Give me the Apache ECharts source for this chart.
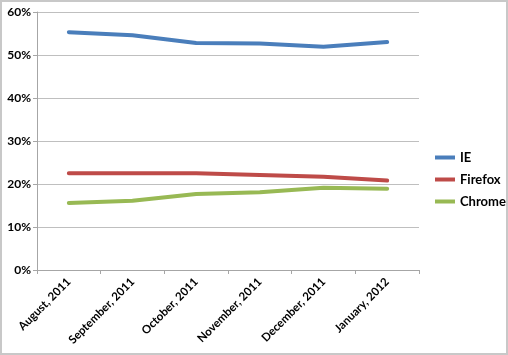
<!DOCTYPE html>
<html><head><meta charset="utf-8">
<script src="https://cdn.jsdelivr.net/npm/echarts@6/dist/echarts.min.js"></script>
<style>html,body{margin:0;padding:0;background:#fff}#c{width:508px;height:355px;box-sizing:border-box;border:2px solid #c8c8c8}</style>
</head><body><div id="c"></div>
<script>
const categories = ['August, 2011','September, 2011','October, 2011','November, 2011','December, 2011','January, 2012'];
const ie = [55.3, 54.6, 52.8, 52.7, 51.9, 53.0];
const firefox = [22.5, 22.5, 22.5, 22.1, 21.7, 20.8];
const chrome = [15.6, 16.1, 17.7, 18.1, 19.1, 18.9];
const yTicks = [0, 10, 20, 30, 40, 50, 60];

const chart = echarts.init(document.getElementById('c'));
const font = 'Lato, "Open Sans", sans-serif';
const mk = (name, data, color) => ({
  name, type: 'line', data, symbol: 'none', smooth: false,
  lineStyle: {width: 4, color, join: 'round', cap: 'round'}, itemStyle: {color}
});
chart.setOption({
  animation: false,
  grid: {left: 35, right: 87, top: 10, bottom: 83},
  legend: {
    orient: 'vertical', left: 428, top: 144, itemGap: 9,
    itemWidth: 20, itemHeight: 4, icon: 'rect',
    textStyle: {fontFamily: font, fontWeight: 'bold', fontSize: 13, color: '#000'},
    data: ['IE', 'Firefox', 'Chrome']
  },
  xAxis: {
    type: 'category', data: categories, boundaryGap: true,
    axisLine: {lineStyle: {color: '#a6a6a6'}},
    axisTick: {show: true, length: 4, lineStyle: {color: '#a6a6a6'}},
    axisLabel: {rotate: 45, fontFamily: font, fontWeight: 'bold', fontSize: 11.5, color: '#000', margin: 10, interval: 0}
  },
  yAxis: {
    type: 'value', min: yTicks[0], max: yTicks[yTicks.length-1], interval: 10,
    axisLine: {show: true, lineStyle: {color: '#a6a6a6'}},
    axisTick: {show: true, length: 4, lineStyle: {color: '#a6a6a6'}},
    splitLine: {lineStyle: {color: '#bfbfbf'}},
    axisLabel: {formatter: v => v + '%', fontFamily: font, fontWeight: 'bold', fontSize: 12, color: '#000', margin: 6}
  },
  series: [mk('IE', ie, '#4A7EBB'), mk('Firefox', firefox, '#BE4B48'), mk('Chrome', chrome, '#98B954')]
});
</script></body></html>
